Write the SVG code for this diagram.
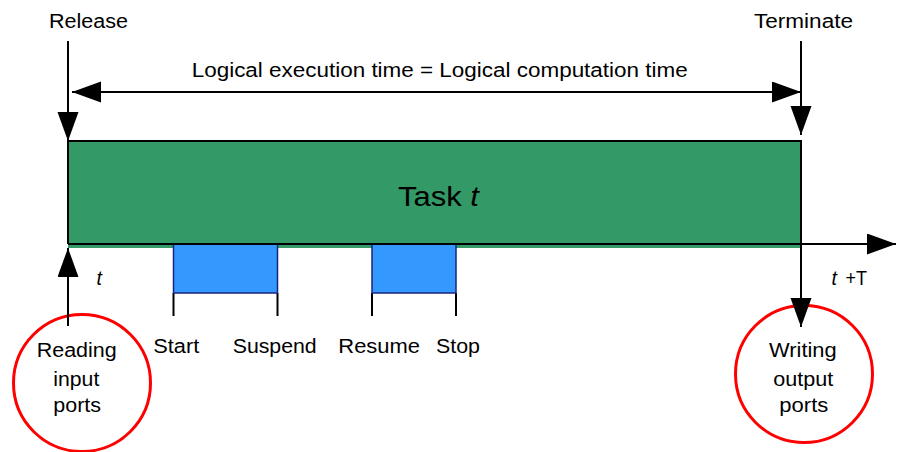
<svg xmlns="http://www.w3.org/2000/svg" width="898" height="452" viewBox="0 0 898 452">
<style>
text{font-family:"Liberation Sans",Arial,sans-serif;font-size:19.5px;fill:#000}
.big{font-size:27px}
.it{font-style:italic}
.ln{stroke:#000;stroke-width:2;fill:none}
.blue{fill:#3399FF;stroke:#1a237e;stroke-width:1.5}
.port{fill:#fff;stroke:#FF0000;stroke-width:3}
</style>
<defs>
<marker id="ah" markerUnits="userSpaceOnUse" markerWidth="30" markerHeight="22" refX="29" refY="10.5" orient="auto-start-reverse">
<path d="M0,0 L29,10.5 L0,21 Z" fill="#000"/>
</marker>
</defs>
<rect width="898" height="452" fill="#fff"/>
<g id="task">
<rect x="68" y="141" width="733" height="107" fill="#339966"/>
<path class="ln" d="M68,244 V141 H801 V244" stroke-width="1.8"/>
<text class="big" x="398" y="206" textLength="81" lengthAdjust="spacingAndGlyphs">Task <tspan class="it">t</tspan></text>
</g>
<g id="segment1">
<path class="ln" d="M173.5,293 V316 M277.5,293 V316"/>
<rect class="blue" x="173.5" y="244" width="104" height="49"/>
<text x="153.3" y="352.7" textLength="46" lengthAdjust="spacingAndGlyphs">Start</text>
<text x="232.7" y="352.7" textLength="84" lengthAdjust="spacingAndGlyphs">Suspend</text>
</g>
<g id="segment2">
<path class="ln" d="M372,293 V316 M456,293 V316"/>
<rect class="blue" x="372" y="244" width="84" height="49"/>
<text x="338.3" y="352.7" textLength="81.7" lengthAdjust="spacingAndGlyphs">Resume</text>
<text x="436" y="352.7" textLength="44" lengthAdjust="spacingAndGlyphs">Stop</text>
</g>
<g id="reading">
<circle class="port" cx="82" cy="383" r="68.5"/>
<text x="36.7" y="357" textLength="80" lengthAdjust="spacingAndGlyphs">Reading</text>
<text x="53.3" y="385.7" textLength="46" lengthAdjust="spacingAndGlyphs">input</text>
<text x="53.3" y="411.7" textLength="47.7" lengthAdjust="spacingAndGlyphs">ports</text>
</g>
<g id="writing">
<circle class="port" cx="804" cy="374" r="68.5"/>
<text x="769" y="357" textLength="67.7" lengthAdjust="spacingAndGlyphs">Writing</text>
<text x="773.3" y="385.7" textLength="60" lengthAdjust="spacingAndGlyphs">output</text>
<text x="779.3" y="411.7" textLength="49" lengthAdjust="spacingAndGlyphs">ports</text>
</g>
<g id="labels">
<text x="49" y="28" textLength="79" lengthAdjust="spacingAndGlyphs">Release</text>
<text x="754" y="28" textLength="99" lengthAdjust="spacingAndGlyphs">Terminate</text>
<text x="191.7" y="76.7" textLength="496" lengthAdjust="spacingAndGlyphs">Logical execution time = Logical computation time</text>
<text class="it" x="96.5" y="285">t</text>
<text class="it" x="831.5" y="285">t</text>
<text x="845.5" y="285" textLength="21.5" lengthAdjust="spacingAndGlyphs">+T</text>
</g>
<g id="connectors">
<line class="ln" x1="68" y1="244" x2="896" y2="244" stroke-width="2.5" marker-end="url(#ah)"/>
<line class="ln" x1="68" y1="41" x2="68" y2="141" marker-end="url(#ah)"/>
<line class="ln" x1="801" y1="41" x2="801" y2="135" marker-end="url(#ah)"/>
<line class="ln" x1="72" y1="92" x2="801" y2="92" marker-start="url(#ah)" marker-end="url(#ah)"/>
<line class="ln" x1="68" y1="326" x2="68" y2="248" marker-end="url(#ah)"/>
<line class="ln" x1="801" y1="244" x2="801" y2="327" marker-end="url(#ah)"/>
</g>
</svg>
